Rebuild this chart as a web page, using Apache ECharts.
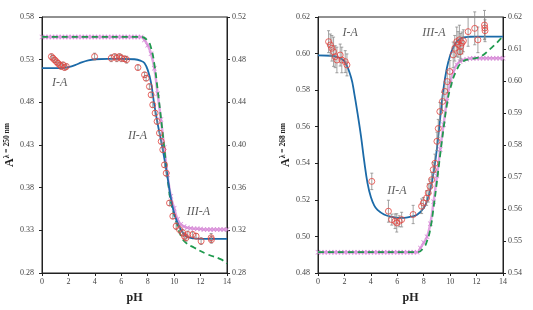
<!DOCTYPE html>
<html>
<head>
<meta charset="utf-8">
<script src="https://cdn.jsdelivr.net/npm/echarts@6/dist/echarts.min.js"></script>
<style>
html,body{margin:0;padding:0;background:#fff;}
#main{width:533px;height:310px;}
</style>
</head>
<body>
<div id="main"></div>
<script>
// pH grid for the calculated (pink) curves
var phGrid = [0,0.25,0.5,0.75,1,1.25,1.5,1.75,2,2.25,2.5,2.75,3,3.25,3.5,3.75,4,4.25,4.5,4.75,5,5.25,5.5,5.75,6,6.25,6.5,6.75,7,7.25,7.5,
    7.75,8,8.25,8.5,8.75,9,9.25,9.5,9.75,10,10.25,10.5,10.75,11,11.25,11.5,11.75,12,12.25,12.5,12.75,13,13.25,13.5,13.75,14];

// ---- left panel (250 nm) ----
// pink calc curve, right axis
var pink250 = [0.5013,0.5013,0.5013,0.5013,0.5013,0.5013,0.5013,0.5013,0.5013,0.5013,0.5013,0.5013,0.5013,0.5013,0.5013,0.5013,
    0.5013,0.5013,0.5013,0.5013,0.5013,0.5013,0.5013,0.5013,0.5013,0.5013,0.5013,0.5013,0.5013,0.5013,0.5013,
    0.4984,0.4936,0.4856,0.472,0.448,0.424,0.3976,0.372,0.352,0.3408,0.3304,0.3256,0.3236,0.3224,0.322,0.3216,0.3214,0.3212,
    0.3208,0.3208,0.3208,0.3208,0.3208,0.3208,0.3208,0.3208];
// green dashed curve, right axis [pH, A]
var green250 = [[0,0.5013],[7.5,0.5013],[8,0.4976],[8.25,0.4912],[8.5,0.476],[8.75,0.452],[9,0.4256],[9.27,0.3956],[9.52,0.3672],
    [9.77,0.3456],[10.15,0.3285],[10.52,0.3146],[10.9,0.3083],[11.53,0.3037],[12.54,0.2974],[13.55,0.2928],[14,0.2888]];
// blue fit, left axis
var blue250 = [[0,0.52],[1,0.52],[1.5,0.5202],[2,0.5212],[2.5,0.5235],[3,0.5268],[3.5,0.5292],[4,0.5305],[5,0.531],[6,0.531],
    [7,0.5305],[7.5,0.5285],[7.75,0.526],[8,0.518],[8.25,0.503],[8.5,0.477],[8.75,0.455],[9,0.436],[9.25,0.415],[9.5,0.392],
    [9.75,0.368],[10,0.35],[10.25,0.339],[10.5,0.331],[10.75,0.3255],[11,0.3222],[11.5,0.3205],[12,0.32],[14,0.32]];
// measured points [pH, A, err], left axis
var meas250 = [[0.71,0.5336,0.003],[0.83,0.5317,0.003],[0.96,0.5297,0.003],[1.09,0.5277,0.003],[1.21,0.5258,0.003],[1.34,0.5239,0.003],
    [1.46,0.522,0.003],[1.59,0.5239,0.003],[1.71,0.5208,0.003],[1.84,0.522,0.003],[3.98,0.5336,0.004],[5.24,0.5317,0.004],
    [5.5,0.5336,0.003],[5.66,0.5317,0.004],[5.86,0.5336,0.003],[6,0.5317,0.004],[6.24,0.531,0.003],[6.4,0.53,0.004],
    [7.26,0.5208,0.003],[7.76,0.5122,0.003],[7.88,0.5083,0.003],[8.13,0.4985,0.003],[8.26,0.4888,0.003],[8.38,0.4771,0.003],
    [8.56,0.4674,0.003],[8.71,0.4576,0.003],[8.89,0.444,0.003],[9.02,0.4342,0.003],[9.14,0.4245,0.003],[9.27,0.4067,0.003],
    [9.4,0.397,0.003],[9.65,0.362,0.003],[9.9,0.3466,0.003],[10.15,0.3349,0.004],[10.4,0.331,0.004],[10.65,0.3271,0.004],
    [10.78,0.3232,0.004],[10.9,0.3213,0.004],[11.03,0.3251,0.004],[11.4,0.3251,0.003],[11.66,0.3232,0.003],[12.04,0.3174,0.004],
    [12.8,0.3213,0.005],[12.82,0.319,0.004]];

// ---- right panel (268 nm) ----
var pink268 = [0.5465,0.5465,0.5465,0.5465,0.5465,0.5465,0.5465,0.5465,0.5465,0.5465,0.5465,0.5465,0.5465,0.5465,0.5465,0.5465,
    0.5465,0.5465,0.5465,0.5465,0.5465,0.5465,0.5465,0.5465,0.5465,0.5465,0.5465,0.5465,0.5465,0.5465,0.5465,
    0.5478,0.5495,0.5513,0.5554,0.5623,0.5703,0.5786,0.5863,0.5937,0.5994,0.6029,0.6051,0.6061,0.6066,0.6068,0.607,
    0.6071,0.6071,0.6071,0.6071,0.6071,0.6071,0.6071,0.6071,0.6071,0.6071];
var green268 = [[0,0.5465],[7.5,0.5465],[8,0.548],[8.25,0.55],[8.5,0.5537],[8.75,0.5606],[9,0.5686],[9.25,0.5771],[9.5,0.5851],
    [9.75,0.5925],[10,0.5975],[10.5,0.6035],[11,0.6062],[11.5,0.6068],[12,0.6072],[12.4,0.6078],[13,0.6099],[13.5,0.6118],[14,0.614]];
var blue268 = [[0,0.599],[1,0.5988],[1.5,0.598],[2,0.5958],[2.5,0.587],[2.75,0.578],[3,0.567],[3.25,0.555],[3.5,0.541],[3.75,0.529],
    [4,0.5215],[4.25,0.517],[4.5,0.5145],[5,0.512],[5.5,0.5108],[6,0.5102],[6.5,0.5102],[7,0.5108],[7.5,0.5118],[8,0.5155],
    [8.25,0.5195],[8.5,0.5256],[8.75,0.535],[9,0.548],[9.25,0.565],[9.5,0.581],[9.75,0.592],[10,0.599],[10.25,0.6035],
    [10.5,0.6065],[10.75,0.608],[11,0.6088],[11.5,0.6092],[12,0.6093],[14,0.6093]];
var meas268 = [[0.8,0.6065,0.006],[0.93,0.6047,0.006],[1.05,0.6029,0.007],[1.18,0.601,0.008],[1.3,0.5983,0.006],[1.43,0.5965,0.007],
    [1.68,0.5992,0.006],[1.8,0.5965,0.007],[2.06,0.5956,0.006],[2.19,0.5938,0.006],[4.07,0.5301,0.0045],[5.33,0.5138,0.006],
    [5.58,0.5092,0.003],[5.83,0.5083,0.004],[5.96,0.5074,0.005],[6.15,0.5083,0.003],[6.33,0.5092,0.004],[7.2,0.512,0.005],
    [7.84,0.5165,0.004],[7.97,0.5183,0.003],[8.22,0.521,0.004],[8.34,0.5238,0.005],[8.47,0.5274,0.004],[8.6,0.531,0.004],
    [8.72,0.5365,0.004],[8.85,0.54,0.005],[9,0.552,0.005],[9.1,0.559,0.005],[9.22,0.5683,0.005],[9.42,0.5738,0.005],
    [9.6,0.5793,0.005],[9.78,0.5847,0.006],[9.98,0.5902,0.006],[10.23,0.5993,0.007],[10.35,0.6029,0.007],[10.5,0.6065,0.008],
    [10.6,0.605,0.007],[10.7,0.6075,0.008],[10.75,0.601,0.005],[10.8,0.604,0.007],[10.9,0.6058,0.006],[11,0.607,0.006],
    [11.36,0.612,0.008],[11.86,0.6138,0.009],[12.1,0.6075,0.007],[12.6,0.6156,0.008],[12.62,0.614,0.006],[12.64,0.6125,0.006]];

// region labels [pH, A, text]
var labels250 = [[1.34,0.503,'I-A'],[7.23,0.441,'II-A'],[11.83,0.352,'III-A']];
var labels268 = [[2.43,0.6113,'I-A'],[5.98,0.525,'II-A'],[8.77,0.6113,'III-A']];

var serif = '"Liberation Serif","DejaVu Serif",serif';
var myChart = echarts.init(document.getElementById('main'));

function xAxisCfg(gi) {
    return {
        gridIndex: gi, type: 'value', min: 0, max: 14, interval: 2,
        name: 'pH', nameLocation: 'middle', nameGap: 19,
        nameTextStyle: {fontFamily: serif, fontWeight: 'bold', fontSize: 12, color: '#222'},
        axisLine: {onZero: false, lineStyle: {color: '#222', width: 1}},
        axisTick: {show: true, length: 3, lineStyle: {color: '#222'}},
        axisLabel: {fontFamily: serif, fontSize: 8, color: '#444', margin: 5},
        splitLine: {show: false}
    };
}
function yAxisCfg(gi, pos, mn, mx, step, name) {
    var ax = {
        gridIndex: gi, type: 'value', position: pos, min: mn, max: mx, interval: step,
        axisLine: {show: true, onZero: false, lineStyle: {color: '#222', width: 1}},
        axisTick: {show: true, length: 3, lineStyle: {color: '#222'}},
        axisLabel: {fontFamily: serif, fontSize: 8, color: '#444', margin: pos == 'left' ? 8 : 5,
            formatter: function (v) { return v.toFixed(2); }},
        splitLine: {show: false}
    };
    if (name) {
        ax.name = '{a|A}{s|λ = ' + name + ' nm}';
        ax.nameLocation = 'middle';
        ax.nameGap = 25;
        ax.nameTextStyle = {
            rich: {
                a: {fontFamily: serif, fontWeight: 'bold', fontSize: 12, color: '#222', lineHeight: 14},
                s: {fontFamily: serif, fontWeight: 'bold', fontSize: 7.5, color: '#222', verticalAlign: 'top', lineHeight: 14}
            }
        };
    }
    return ax;
}

function errBars(data, xi, yi) {
    return {
        type: 'custom', xAxisIndex: xi, yAxisIndex: yi, z: 4, silent: true,
        encode: {x: 0, y: 1},
        renderItem: function (params, api) {
            var x = api.value(0), y = api.value(1), e = api.value(2);
            var t = api.coord([x, y + e]), b = api.coord([x, y - e]);
            var st = {stroke: '#8a8a8a', lineWidth: 0.8};
            return {type: 'group', children: [
                {type: 'line', shape: {x1: t[0], y1: t[1], x2: b[0], y2: b[1]}, style: st},
                {type: 'line', shape: {x1: t[0] - 1.5, y1: t[1], x2: t[0] + 1.5, y2: t[1]}, style: st},
                {type: 'line', shape: {x1: b[0] - 1.5, y1: b[1], x2: b[0] + 1.5, y2: b[1]}, style: st}
            ]};
        },
        data: data
    };
}
function pinkSeries(vals, xi, yi) {
    return {
        type: 'line', xAxisIndex: xi, yAxisIndex: yi, z: 2,
        data: phGrid.map(function (p, i) { return [p, vals[i]]; }),
        symbol: 'path://M0,1L1,0L5,4L9,0L10,1L6,5L10,9L9,10L5,6L1,10L0,9L4,5Z',
        symbolSize: 5, showSymbol: true,
        itemStyle: {color: '#d58ad5'},
        lineStyle: {color: '#e2a3e2', width: 2.5},
        smooth: true, animation: false
    };
}
function greenSeries(data, xi, yi) {
    return {
        type: 'line', xAxisIndex: xi, yAxisIndex: yi, z: 3, data: data, showSymbol: false, smooth: true,
        lineStyle: {color: '#1f9a4e', width: 1.8, type: [6, 4]}, animation: false
    };
}
function blueSeries(data, xi, yi) {
    return {
        type: 'line', xAxisIndex: xi, yAxisIndex: yi, z: 3, data: data, showSymbol: false, smooth: 0.4,
        lineStyle: {color: '#1b6aa8', width: 1.8}, animation: false
    };
}
function measSeries(data, xi, yi) {
    return {
        type: 'scatter', xAxisIndex: xi, yAxisIndex: yi, z: 5, data: data, symbol: 'circle', symbolSize: 6,
        itemStyle: {color: 'rgba(255,255,255,0)', borderColor: '#e2433e', borderWidth: 1}, animation: false
    };
}
function labelSeries(data, xi, yi) {
    return {
        type: 'scatter', xAxisIndex: xi, yAxisIndex: yi, z: 6, symbolSize: 0, silent: true,
        data: data.map(function (d) { return {value: [d[0], d[1]], name: d[2]}; }),
        label: {show: true, position: 'inside', formatter: '{b}', fontFamily: serif, fontStyle: 'italic',
            fontSize: 12, color: '#333'},
        animation: false
    };
}

var option = {
    backgroundColor: '#fff',
    animation: false,
    grid: [
        {left: 42, top: 17, width: 185, height: 256, show: true, borderColor: '#222', borderWidth: 1, backgroundColor: 'transparent'},
        {left: 318, top: 17, width: 185, height: 256, show: true, borderColor: '#222', borderWidth: 1, backgroundColor: 'transparent'}
    ],
    xAxis: [xAxisCfg(0), xAxisCfg(1)],
    yAxis: [
        yAxisCfg(0, 'left', 0.28, 0.58, 0.05, '250'),
        yAxisCfg(0, 'right', 0.28, 0.52, 0.04),
        yAxisCfg(1, 'left', 0.48, 0.62, 0.02, '268'),
        yAxisCfg(1, 'right', 0.54, 0.62, 0.01)
    ],
    series: [
        pinkSeries(pink250, 0, 1),
        greenSeries(green250, 0, 1),
        blueSeries(blue250, 0, 0),
        errBars(meas250, 0, 0),
        measSeries(meas250, 0, 0),
        labelSeries(labels250, 0, 0),
        pinkSeries(pink268, 1, 3),
        greenSeries(green268, 1, 3),
        blueSeries(blue268, 1, 2),
        errBars(meas268, 1, 2),
        measSeries(meas268, 1, 2),
        labelSeries(labels268, 1, 2)
    ]
};
myChart.setOption(option);
</script>
</body>
</html>
